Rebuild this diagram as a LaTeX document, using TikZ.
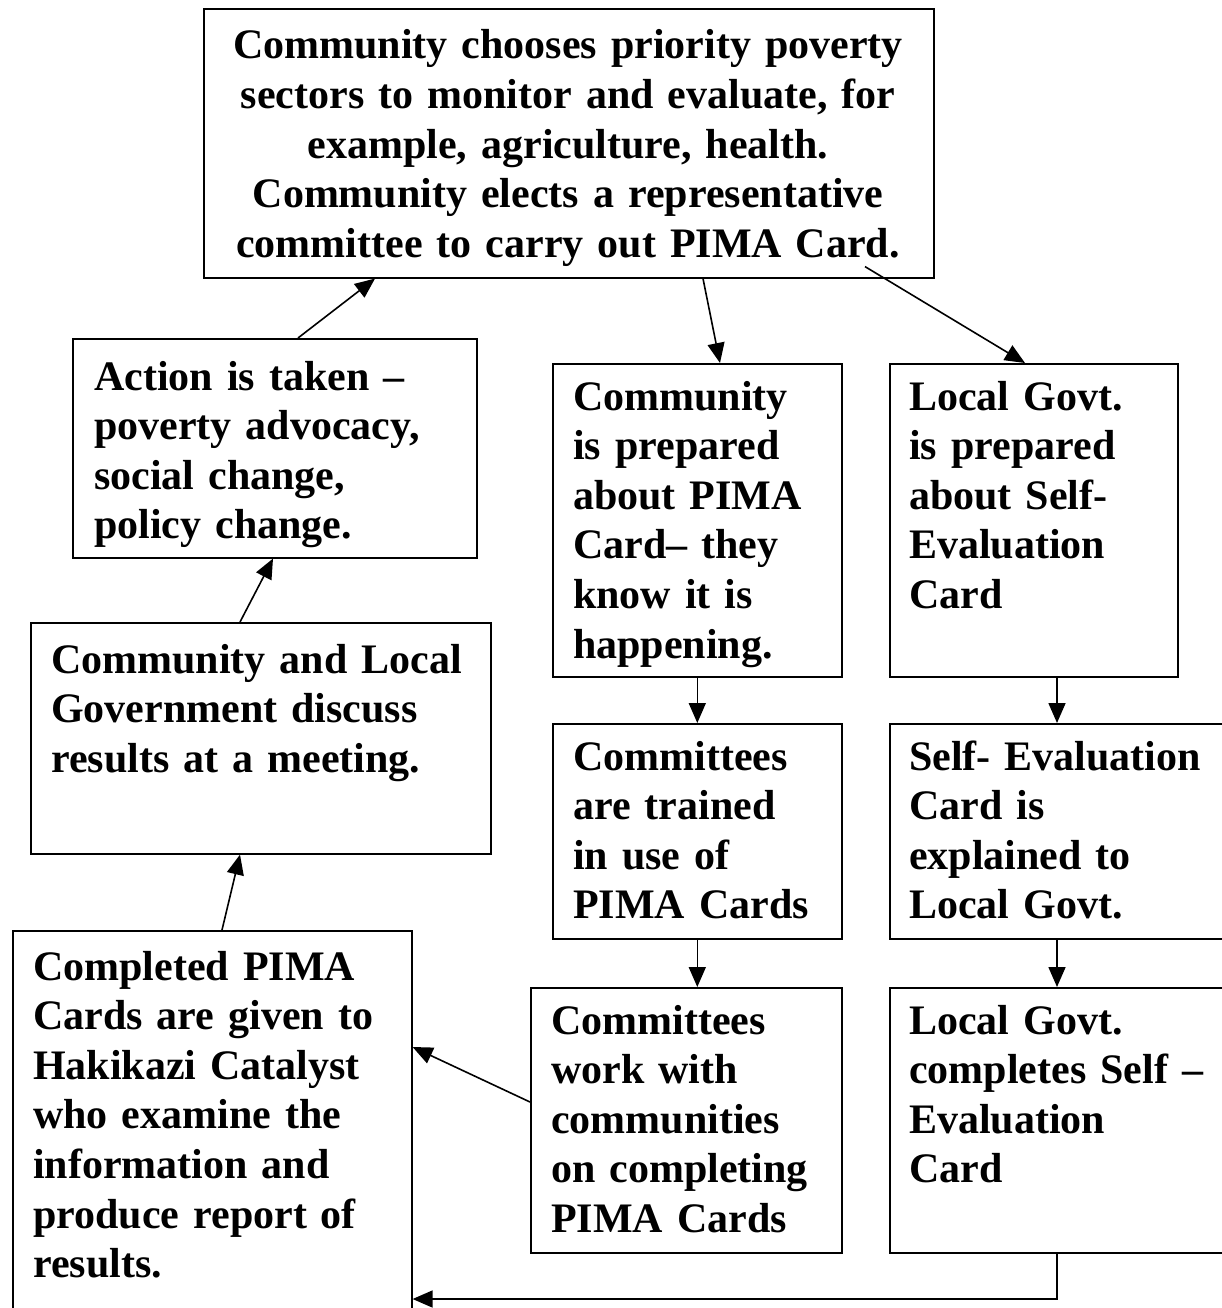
\documentclass[tikz,border=0pt]{standalone}
\usepackage{fontspec}
\setmainfont{Liberation Serif}
\usetikzlibrary{arrows.meta,calc}
\tikzset{
  box/.style={draw, line width=1.6pt, anchor=north west, inner sep=0pt},
  txt/.style={anchor=base west, inner sep=0pt, align=left, text width=#1,
     font=\fontsize{42}{49.6}\selectfont\bfseries},
  conn/.style={line width=1.6pt, -{Triangle[length=20pt,width=17pt]}}
}
\begin{document}
\begin{tikzpicture}[x=1pt,y=-1pt]
\useasboundingbox (0,0) rectangle (1222,1308);
\clip (0,0) rectangle (1222,1308);
\fill[white] (0,0) rectangle (1222,1308);
% boxes
\node[box, minimum width=730pt, minimum height=269pt] (top) at (203,8) {};
\node[box, minimum width=404pt, minimum height=219pt] (act) at (72,338) {};
\node[box, minimum width=460pt, minimum height=231pt] (disc) at (30,622) {};
\node[box, minimum width=399pt, minimum height=420pt] (done) at (12,930) {};
\node[box, minimum width=289pt, minimum height=313pt] (cprep) at (552,363) {};
\node[box, minimum width=288pt, minimum height=313pt] (lprep) at (889,363) {};
\node[box, minimum width=289pt, minimum height=215pt] (ctrain) at (552,723) {};
\node[box, minimum width=360pt, minimum height=215pt] (seval) at (889,723) {};
\node[box, minimum width=311pt, minimum height=265pt] (cwork) at (530,987) {};
\node[box, minimum width=360pt, minimum height=265pt] (lcomp) at (889,987) {};
% texts
\node[txt=730pt, anchor=base, align=center] (ttop) at (568,59)
  {Community chooses priority poverty\\sectors to monitor and evaluate, for\\example, agriculture, health.\\Community elects a representative\\committee to carry out PIMA Card.};
\node[txt=380pt] (tact) at (94,390)
  {Action is taken --\\poverty advocacy,\\social change,\\policy change.};
\node[txt=440pt] (tdisc) at (51,673)
  {Community and Local\\Government discuss\\results at a meeting.};
\node[txt=380pt] (tdone) at (33,980)
  {Completed PIMA\\Cards are given to\\Hakikazi Catalyst\\who examine the\\information and\\produce report of\\results.};
\node[txt=270pt] (tcprep) at (573,410)
  {Community\\is prepared\\about PIMA\\Card-- they\\know it is\\happening.};
\node[txt=270pt] (tlprep) at (909,410)
  {Local Govt.\\is prepared\\about Self-\\Evaluation\\Card};
\node[txt=270pt] (tctrain) at (573,770)
  {Committees\\are trained\\in use of\\PIMA Cards};
\node[txt=320pt] (tseval) at (909,770)
  {Self- Evaluation\\Card is\\explained to\\Local Govt.};
\node[txt=290pt] (tcwork) at (551,1034)
  {Committees\\work with\\communities\\on completing\\PIMA Cards};
\node[txt=320pt] (tlcomp) at (909,1034)
  {Local Govt.\\completes Self --\\Evaluation\\Card};
% connectors
\draw[conn] ([xshift=226pt]act.north west) -- ([xshift=172pt]top.south west);
\draw[conn] ([xshift=500pt]top.south west) -- ([xshift=168pt]cprep.north west);
\draw[conn] ([xshift=662pt,yshift=12pt]top.south west) -- ([xshift=136pt]lprep.north west);
\draw[conn] (cprep.south) -- (ctrain.north);
\draw[conn] ([xshift=168pt]lprep.south west) -- ([xshift=168pt]seval.north west);
\draw[conn] (ctrain.south) -- (ctrain.south |- cwork.north);
\draw[conn] ([xshift=168pt]seval.south west) -- ([xshift=168pt]lcomp.north west);
\draw[conn] ([yshift=-115pt]cwork.north west) -- ([yshift=-117pt]done.north east);
\draw[conn] ([xshift=168pt]lcomp.south west) |- ([yshift=-369pt]done.north east);
\draw[conn] ([xshift=210pt]done.north west) -- ([xshift=210pt]disc.south west);
\draw[conn] ([xshift=210pt]disc.north west) -- ([xshift=201pt]act.south west);
\end{tikzpicture}
\end{document}
